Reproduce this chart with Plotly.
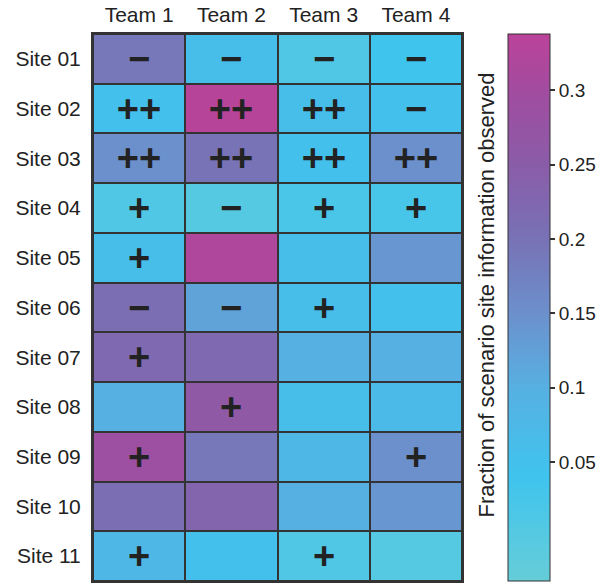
import plotly.graph_objects as go

# Teams (columns) and sites (rows)
teams = ["Team 1", "Team 2", "Team 3", "Team 4"]
sites = ["Site 01", "Site 02", "Site 03", "Site 04", "Site 05", "Site 06",
         "Site 07", "Site 08", "Site 09", "Site 10", "Site 11"]

# Fraction of scenario site information observed, one row per site
fraction = [
    [0.19, 0.06, 0.01, 0.04],
    [0.05, 0.33, 0.06, 0.05],
    [0.15, 0.20, 0.05, 0.15],
    [0.01, 0.00, 0.02, 0.025],
    [0.06, 0.32, 0.06, 0.14],
    [0.21, 0.12, 0.06, 0.05],
    [0.22, 0.22, 0.10, 0.10],
    [0.10, 0.26, 0.06, 0.07],
    [0.29, 0.19, 0.08, 0.15],
    [0.21, 0.23, 0.10, 0.14],
    [0.08, 0.05, 0.01, 0.00],
]

# Observation rating marks for each cell
marks = [
    ["\u2212", "\u2212", "\u2212", "\u2212"],
    ["++", "++", "++", "\u2212"],
    ["++", "++", "++", "++"],
    ["+", "\u2212", "+", "+"],
    ["+", "", "", ""],
    ["\u2212", "\u2212", "+", ""],
    ["+", "", "", ""],
    ["", "+", "", ""],
    ["+", "", "", "+"],
    ["", "", "", ""],
    ["+", "", "+", ""],
]

colorbar_ticks = [0.05, 0.1, 0.15, 0.2, 0.25, 0.3]
colorbar_ticktext = ["0.05", "0.1", "0.15", "0.2", "0.25", "0.3"]
zmin, zmax = -0.03, 0.338

def pos(v):
    return (v - zmin) / (zmax - zmin)

colorscale = [
    [0.0, "#66cdd8"],
    [pos(0.04), "#3fc4ee"],
    [pos(0.10), "#57b0e2"],
    [pos(0.15), "#6c90cc"],
    [pos(0.20), "#7872b6"],
    [pos(0.25), "#8a5ca8"],
    [pos(0.30), "#a24ca0"],
    [1.0, "#bb4399"],
]

FONT = "Liberation Sans"

fig = go.Figure(
    go.Heatmap(
        z=fraction,
        x=teams,
        y=sites,
        text=marks,
        texttemplate="%{text}",
        textfont=dict(family=FONT, size=38, color="#222222", weight="bold"),
        colorscale=colorscale,
        zmin=zmin,
        zmax=zmax,
        xgap=2,
        ygap=2,
        hoverinfo="skip",
        colorbar=dict(
            x=1.125,
            xanchor="left",
            y=0.5,
            yanchor="middle",
            len=1.0,
            lenmode="fraction",
            thickness=42,
            thicknessmode="pixels",
            outlinecolor="#333333",
            outlinewidth=1,
            tickvals=colorbar_ticks,
            ticktext=colorbar_ticktext,
            ticks="outside",
            ticklen=5,
            tickwidth=1.5,
            tickcolor="#333333",
            tickfont=dict(family=FONT, size=19, color="#222222"),
            xpad=0,
            ypad=0,
        ),
    )
)

fig.add_annotation(
    text="Fraction of scenario site information observed",
    textangle=-90,
    xref="paper",
    yref="paper",
    x=1.106,
    y=0.523,
    showarrow=False,
    font=dict(family=FONT, size=22, color="#222222"),
)

fig.update_xaxes(
    side="top",
    showgrid=False,
    zeroline=False,
    ticks="",
    ticklabelstandoff=2,
    tickfont=dict(family=FONT, size=21, color="#222222"),
    showline=True,
    mirror=True,
    linecolor="#333333",
    linewidth=2,
)
fig.update_yaxes(
    autorange="reversed",
    showgrid=False,
    zeroline=False,
    ticks="",
    ticklabelstandoff=6,
    tickfont=dict(family=FONT, size=21, color="#222222"),
    showline=True,
    mirror=True,
    linecolor="#333333",
    linewidth=2,
)

fig.update_layout(
    width=606,
    height=586,
    margin=dict(l=93, r=144, t=34, b=3),
    paper_bgcolor="white",
    plot_bgcolor="#333333",
)

fig.write_html("out.html")
